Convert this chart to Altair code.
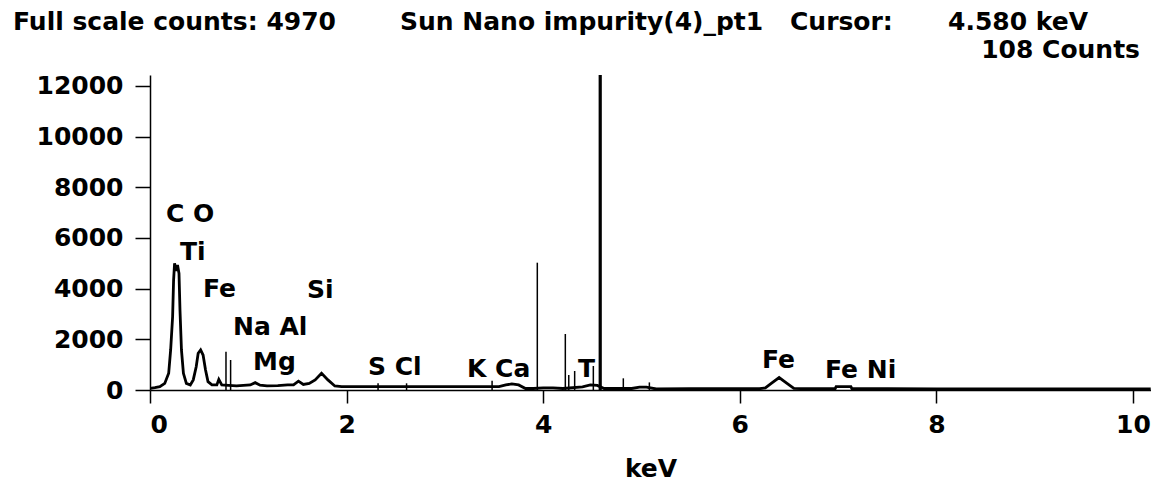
import altair as alt
import pandas as pd

# ---- data ----
energy = [0.00, 0.05, 0.10, 0.15, 0.19, 0.21, 0.23, 0.24, 0.25, 0.265, 0.28, 0.295, 0.305,
          0.32, 0.34, 0.37, 0.41, 0.44, 0.47, 0.49, 0.515, 0.54, 0.565, 0.59, 0.63, 0.68,
          0.70, 0.73, 0.80, 0.88, 0.95, 1.02, 1.07, 1.12, 1.19, 1.30, 1.40, 1.46, 1.51,
          1.56, 1.62, 1.68, 1.745, 1.81, 1.88, 1.95, 2.10, 2.30, 2.50, 2.80, 3.00, 3.30,
          3.55, 3.62, 3.68, 3.75, 3.82, 3.90, 4.00, 4.10, 4.20, 4.40, 4.48, 4.55, 4.62,
          4.70, 4.90, 4.98, 5.05, 5.15, 5.50, 6.00, 6.20, 6.26, 6.32, 6.40, 6.48, 6.55,
          6.70, 6.97, 6.98, 7.13, 7.14, 7.50, 8.00, 9.00, 10.00, 10.18]
counts = [60, 90, 130, 260, 660, 1580, 2890, 4340, 5000, 4700, 4930, 4600, 3160,
          1580, 660, 260, 200, 400, 920, 1450, 1580, 1380, 790, 330, 200, 200,
          420, 200, 180, 160, 180, 200, 290, 190, 160, 170, 200, 200, 350,
          220, 260, 400, 660, 400, 160, 130, 130, 130, 130, 130, 130, 130,
          130, 200, 240, 200, 60, 60, 80, 80, 60, 120, 200, 180, 60,
          60, 60, 110, 110, 40, 50, 50, 50, 80, 260, 490, 260, 60,
          50, 50, 130, 130, 50, 50, 40, 40, 40, 40]

spike_energy = [0.773, 0.82, 2.32, 2.61, 3.48, 3.94, 4.225, 4.26, 4.32, 4.51, 4.815, 5.08]
spike_counts = [1513, 1184, 264, 264, 368, 5025, 2210, 592, 750, 947, 461, 300]

cursor_energy = [4.58]
cursor_top = [12433]

peak_labels = ["C O", "Ti", "Fe", "Si", "Na Al", "Mg", "S Cl", "K Ca", "T", "Fe", "Fe Ni"]
label_energy = [0.163, 0.305, 0.539, 1.597, 0.844, 1.048, 2.218, 3.225, 4.354, 6.226, 6.867]
label_counts = [6631, 5131, 3671, 3631, 2171, 789, 592, 513, 513, 868, 474]

x_ticks = [0, 2, 4, 6, 8, 10]
y_ticks = [0, 2000, 4000, 6000, 8000, 10000, 12000]

header_left = "Full scale counts: 4970"
header_mid = "Sun Nano impurity(4)_pt1"
header_cursor = "Cursor:"
header_kev = "4.580 keV"
header_counts = "108 Counts"

FONT = "DejaVu Sans"
FS = 25
FW = "bold"

spec = pd.DataFrame({"keV": energy, "counts": counts})
spikes = pd.DataFrame({"keV": spike_energy, "counts": spike_counts})
cursor = pd.DataFrame({"keV": cursor_energy, "counts": cursor_top})
labels = pd.DataFrame({"keV": label_energy, "counts": label_counts, "label": peak_labels})

xscale = alt.Scale(domain=[0, 10.183], nice=False, zero=False)
yscale = alt.Scale(domain=[0, 12433], nice=False)

xaxis = alt.Axis(values=x_ticks, title="keV", grid=False, tickSize=13, tickWidth=1.5,
                 tickColor="black", domainColor="black", domainWidth=1.5,
                 labelFont=FONT, labelFontSize=FS, labelFontWeight=FW, labelColor="black",
                 labelPadding=9,
                 titleFont=FONT, titleFontSize=FS, titleFontWeight=FW, titleColor="black",
                 titlePadding=19, format="d")
yaxis = alt.Axis(values=y_ticks, title=None, grid=False, tickSize=15, tickWidth=1.5,
                 tickColor="black", domainColor="black", domainWidth=1.5,
                 labelFont=FONT, labelFontSize=FS, labelFontWeight=FW, labelColor="black",
                 labelPadding=12, format="d")

line = alt.Chart(spec).mark_line(color="black", strokeWidth=2.8, clip=True).encode(
    x=alt.X("keV:Q", scale=xscale, axis=xaxis),
    y=alt.Y("counts:Q", scale=yscale, axis=yaxis),
)

spike_rules = alt.Chart(spikes).mark_rule(color="black", strokeWidth=1.5).encode(
    x=alt.X("keV:Q", scale=xscale),
    y=alt.Y("counts:Q", scale=yscale),
    y2=alt.datum(0),
)

cursor_rule = alt.Chart(cursor).mark_rule(color="black", strokeWidth=3.2).encode(
    x=alt.X("keV:Q", scale=xscale),
    y=alt.Y("counts:Q", scale=yscale),
    y2=alt.datum(0),
)

label_text = alt.Chart(labels).mark_text(
    font=FONT, fontSize=FS, fontWeight=FW, color="black", align="left", baseline="alphabetic"
).encode(
    x=alt.X("keV:Q", scale=xscale),
    y=alt.Y("counts:Q", scale=yscale),
    text="label:N",
)

one = pd.DataFrame({"d": [0]})

def header(txt, xpx, ypx, align="left"):
    return alt.Chart(one).mark_text(
        text=txt, font=FONT, fontSize=FS, fontWeight=FW, color="black",
        align=align, baseline="alphabetic"
    ).encode(x=alt.value(xpx), y=alt.value(ypx))

chart = alt.layer(
    line, spike_rules, cursor_rule, label_text,
    header(header_left, -137, -45),
    header(header_mid, 250, -45),
    header(header_cursor, 640, -45),
    header(header_kev, 798, -45),
    header(header_counts, 990, -17, align="right"),
).properties(
    width=1001, height=315,
    autosize=alt.AutoSizeParams(type="none"),
    padding={"left": 150, "top": 75, "right": 0, "bottom": 95},
    background="white",
).configure_view(stroke=None)

chart.save("out.html", embed_options={"renderer": "svg", "actions": False})
